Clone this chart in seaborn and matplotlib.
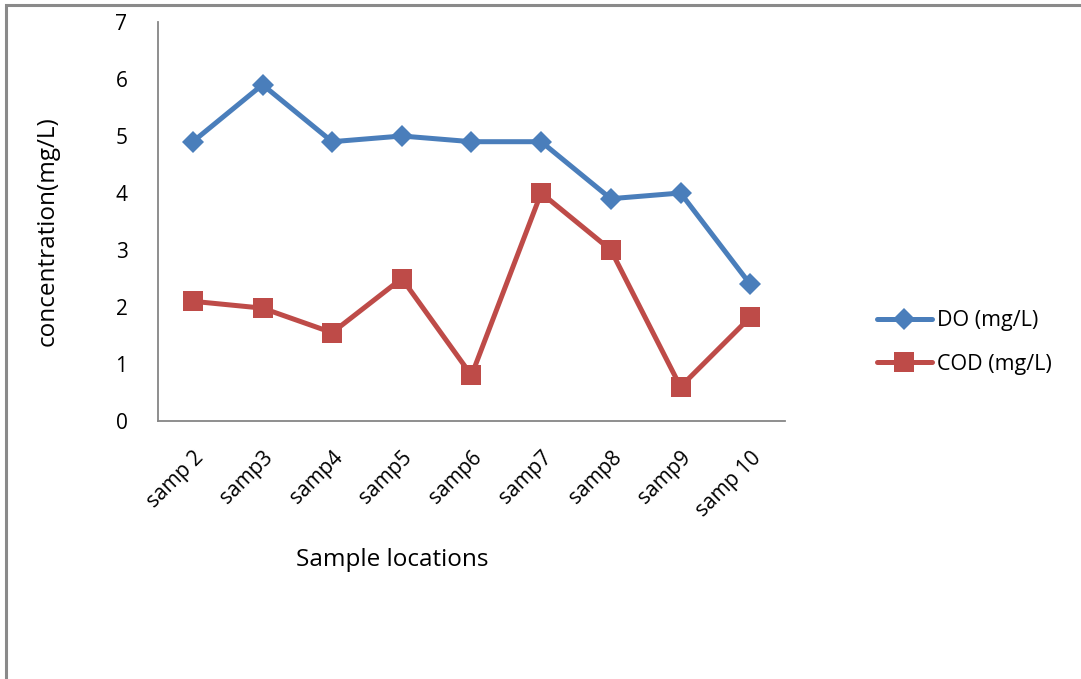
import matplotlib
matplotlib.use("Agg")
import matplotlib.pyplot as plt
from matplotlib.patches import Rectangle
import seaborn as sns
import pandas as pd
import numpy as np

# Sampling sites and measured concentrations
locations = ["samp 2", "samp3", "samp4", "samp5", "samp6", "samp7", "samp8", "samp9", "samp 10"]
do_values = [4.9, 5.9, 4.9, 5.0, 4.9, 4.9, 3.9, 4.0, 2.4]
cod_values = [2.1, 1.98, 1.55, 2.5, 0.8, 4.0, 3.0, 0.6, 1.82]

df = pd.DataFrame({
    "location": locations * 2,
    "pos": list(range(len(locations))) * 2,
    "value": do_values + cod_values,
    "series": ["DO (mg/L)"] * len(locations) + ["COD (mg/L)"] * len(locations),
})

sns.set_style("white")
plt.rcParams["font.family"] = ["Open Sans", "DejaVu Sans"]
plt.rcParams["text.color"] = "black"

W, H = 1081, 679
fig = plt.figure(figsize=(W / 100, H / 100), dpi=100)
ax = fig.add_axes([158 / W, 1 - 421 / H, (785 - 158) / W, (421 - 22) / H])

palette = {"DO (mg/L)": "#4A7EBB", "COD (mg/L)": "#BE4B48"}
markers = {"DO (mg/L)": "D", "COD (mg/L)": "s"}
sizes = {"DO (mg/L)": 11, "COD (mg/L)": 14}

for name in ["DO (mg/L)", "COD (mg/L)"]:
    sub = df[df["series"] == name]
    sns.lineplot(data=sub, x="pos", y="value", ax=ax, color=palette[name],
                 linewidth=3.6, marker=markers[name], markersize=sizes[name],
                 markeredgewidth=0, label=name)

gray = "#868686"
ax.set_xlim(-0.5, len(locations) - 0.5)
ax.set_ylim(0, 7)
ax.set_yticks(range(0, 8))
ax.set_xticks(range(len(locations)))
ax.set_xticklabels(locations, rotation=45, ha="right", rotation_mode="anchor", fontsize=15)
ax.set_xticks(np.arange(-0.5, len(locations), 1.0), minor=True)
ax.tick_params(axis="x", which="major", length=0, pad=19, labelcolor="black")
ax.tick_params(axis="x", which="minor", length=6, width=1.3, color=gray, direction="out")
ax.tick_params(axis="y", length=6, width=1.3, color=gray, direction="out",
               labelsize=15, pad=16, labelcolor="black")
for side in ["top", "right"]:
    ax.spines[side].set_visible(False)
for side in ["left", "bottom"]:
    ax.spines[side].set_color(gray)
    ax.spines[side].set_linewidth(1.3)

ax.set_xlabel("")
ax.set_ylabel("")
fig.text(392 / W, 1 - 560 / H, "Sample locations", fontsize=17.5, ha="center", va="center")
fig.text(48 / W, 1 - 231 / H, "concentration(mg/L)", fontsize=17.5, rotation=90,
         ha="center", va="center")

leg = ax.legend(loc="center left", bbox_to_anchor=(877 / W, 1 - 342.5 / H),
                bbox_transform=fig.transFigure, frameon=False, borderpad=0,
                borderaxespad=0, fontsize=15.5, handlelength=2.55,
                labelspacing=1.05, handletextpad=0.25)

# Chart frame
fig.patches.append(Rectangle((6 / W, -0.05), 1.1, 1 - 5 / H + 0.05,
                             transform=fig.transFigure, fill=False,
                             edgecolor="#8a8a8a", linewidth=2.2))

fig.savefig("out.png", dpi=100)
